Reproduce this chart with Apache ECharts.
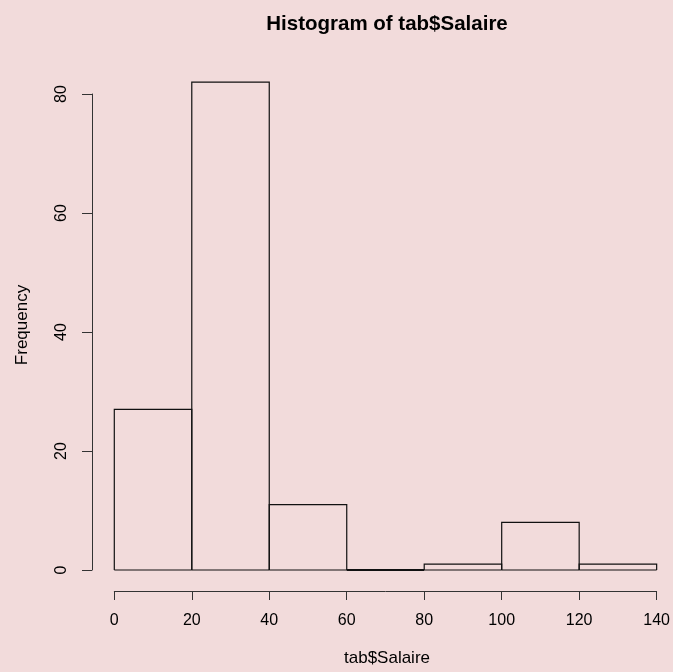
<!DOCTYPE html>
<html>
<head>
<meta charset="utf-8">
<script src="https://cdn.jsdelivr.net/npm/echarts@6/dist/echarts.min.js"></script>
<style>
html,body{margin:0;padding:0;background:#f2dbdb;}
#c{width:673px;height:672px;}
</style>
</head>
<body>
<div id="c"></div>
<script>
var binStarts = [0, 20, 40, 60, 80, 100, 120];
var binWidth = 20;
var counts = [27, 82, 11, 0, 1, 8, 1];
var xTicks = [0, 20, 40, 60, 80, 100, 120, 140];
var yTicks = [0, 20, 40, 60, 80];
var titleText = 'Histogram of tab$Salaire';
var xTitle = 'tab$Salaire';
var yTitle = 'Frequency';

var data = binStarts.map(function (s, i) { return [s, s + binWidth, counts[i]]; });
var font = 'Liberation Sans, Arial, Helvetica, sans-serif';
var chart = echarts.init(document.getElementById('c'), null, {renderer: 'canvas'});
chart.setOption({
  backgroundColor: '#f2dbdb',
  animation: false,
  graphic: [
    {type: 'text', x: 387, y: 24, style: {text: titleText, textAlign: 'center', textVerticalAlign: 'middle',
      font: 'bold 20.5px ' + font, fill: '#000'}},
    {type: 'text', x: 387, y: 658, style: {text: xTitle, textAlign: 'center', textVerticalAlign: 'middle',
      font: '17px ' + font, fill: '#000'}},
    {type: 'text', x: 22, y: 325, rotation: Math.PI / 2, style: {text: yTitle, textAlign: 'center', textVerticalAlign: 'middle',
      font: '17px ' + font, fill: '#000'}}
  ],
  grid: {left: 114.3, right: 13, top: 94, bottom: 102, containLabel: false},
  xAxis: {
    type: 'value', min: xTicks[0], max: xTicks[xTicks.length - 1], interval: 20,
    offset: 21, splitLine: {show: false},
    axisLine: {show: true, onZero: false, lineStyle: {color: '#333', width: 1}},
    axisTick: {show: true, length: 9, lineStyle: {color: '#333'}},
    axisLabel: {margin: 22, fontFamily: font, fontSize: 16, color: '#000'}
  },
  yAxis: {
    type: 'value', min: yTicks[0], max: yTicks[yTicks.length - 1], interval: 20,
    offset: 22.3, splitLine: {show: false},
    axisLine: {show: true, onZero: false, lineStyle: {color: '#333', width: 1}},
    axisTick: {show: true, length: 10, lineStyle: {color: '#333'}},
    axisLabel: {rotate: 90, margin: 22, fontFamily: font, fontSize: 16, color: '#000'}
  },
  series: [{
    type: 'custom',
    clip: false,
    data: data,
    renderItem: function (params, api) {
      var p0 = api.coord([api.value(0), api.value(2)]);
      var p1 = api.coord([api.value(1), 0]);
      var st = {fill: null, stroke: '#111', lineWidth: 1.2};
      return {
        type: 'group',
        children: [
          {type: 'line', shape: {x1: p0[0], y1: p1[1], x2: p1[0], y2: p1[1]},
            style: {stroke: '#111', lineWidth: p0[1] === p1[1] ? 2 : 1.2}},
          {type: 'polyline', shape: {points: [[p0[0], p1[1]], [p0[0], p0[1]], [p1[0], p0[1]], [p1[0], p1[1]]]},
            style: st}
        ]
      };
    }
  }]
});
</script>
</body>
</html>
